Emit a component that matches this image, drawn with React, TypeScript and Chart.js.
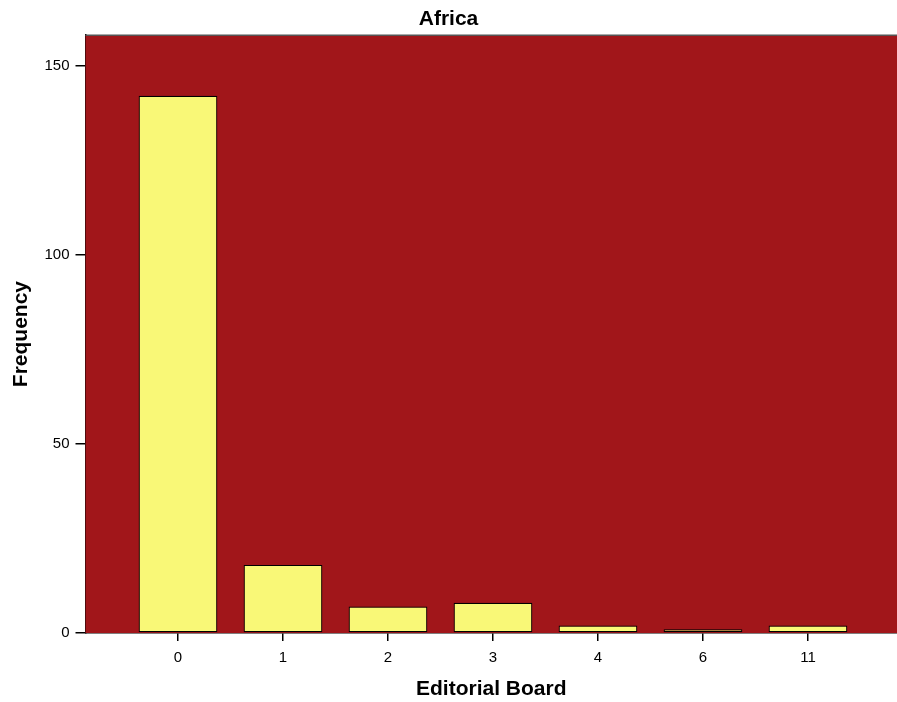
import React, { useEffect, useRef } from "react";
import { Chart, registerables } from "chart.js";

Chart.register(...registerables);

const categories = ["0", "1", "2", "3", "4", "6", "11"];
const frequencies = [142, 18, 7, 8, 2, 1, 2];
const yTicks = [0, 50, 100, 150];
const chartTitle = "Africa";
const xTitle = "Editorial Board";
const yTitle = "Frequency";

const FONT = "'Liberation Sans', Arial, sans-serif";
const PLOT_BG = "#A1161A";
const BAR_FILL = "#F9F877";

const plotBg = {
  id: "plotBg",
  beforeDatasetsDraw(chart: any) {
    const { ctx, chartArea } = chart;
    ctx.save();
    ctx.fillStyle = PLOT_BG;
    ctx.fillRect(chartArea.left, chartArea.top, chartArea.right - chartArea.left, chartArea.bottom - chartArea.top);
    ctx.strokeStyle = "#555";
    ctx.lineWidth = 1.5;
    ctx.beginPath();
    ctx.moveTo(chartArea.left, chartArea.top);
    ctx.lineTo(chartArea.right, chartArea.top);
    ctx.stroke();
    ctx.restore();
  },
};

export default function App() {
  const ref = useRef<HTMLCanvasElement>(null);
  useEffect(() => {
    document.body.style.margin = "0";
    const chart = new Chart(ref.current!, {
      type: "bar",
      data: {
        datasets: [
          {
            data: frequencies.map((v, i) => ({ x: i, y: v })),
            backgroundColor: BAR_FILL,
            borderColor: "#000",
            borderWidth: 1.2,
            borderSkipped: false,
            barPercentage: 0.75,
            categoryPercentage: 1,
          },
        ],
      },
      options: {
        animation: false,
        responsive: false,
        maintainAspectRatio: false,
        layout: { padding: 0 },
        plugins: {
          legend: { display: false },
          tooltip: { enabled: false },
          title: {
            display: true,
            text: chartTitle,
            color: "#000",
            font: { family: FONT, size: 21, weight: "bold" },
            padding: { top: 7, bottom: 3 },
          },
        },
        scales: {
          x: {
            type: "linear",
            offset: false,
            min: -0.881,
            max: 6.848,
            afterBuildTicks: (scale: any) => {
              scale.ticks = categories.map((_, i) => ({ value: i }));
            },
            afterFit: (scale: any) => {
              scale.height = 69;
            },
            ticks: {
              callback: (v: any) => categories[Math.round(Number(v))] ?? "",
              color: "#000",
              font: { family: FONT, size: 15 },
              padding: 8,
              maxRotation: 0,
              autoSkip: false,
            },
            grid: { offset: false, drawOnChartArea: false, drawTicks: true, tickLength: 8, color: "#000", lineWidth: 1.5 },
            border: { display: true, color: "#000", width: 1.5 },
            title: {
              display: true,
              text: xTitle,
              color: "#000",
              font: { family: FONT, size: 21, weight: "bold" },
              padding: { top: 8, bottom: 0 },
            },
          },
          y: {
            min: 0,
            max: 158,
            afterBuildTicks: (scale: any) => {
              scale.ticks = yTicks.map((v) => ({ value: v }));
            },
            afterFit: (scale: any) => {
              scale.width = 85.5;
            },
            ticks: {
              color: "#000",
              font: { family: FONT, size: 15 },
              padding: 6,
            },
            grid: { drawOnChartArea: false, drawTicks: true, tickLength: 10, color: "#000", lineWidth: 1.5 },
            border: { display: true, color: "#000", width: 1.5 },
            title: {
              display: true,
              text: yTitle,
              color: "#000",
              font: { family: FONT, size: 21, weight: "bold" },
              padding: { top: 9, bottom: 0 },
            },
          },
        },
      },
      plugins: [plotBg],
    });
    return () => chart.destroy();
  }, []);
  return (
    <div style={{ width: 897, height: 702 }}>
      <canvas ref={ref} width={897} height={702} style={{ display: "block" }} />
    </div>
  );
}
